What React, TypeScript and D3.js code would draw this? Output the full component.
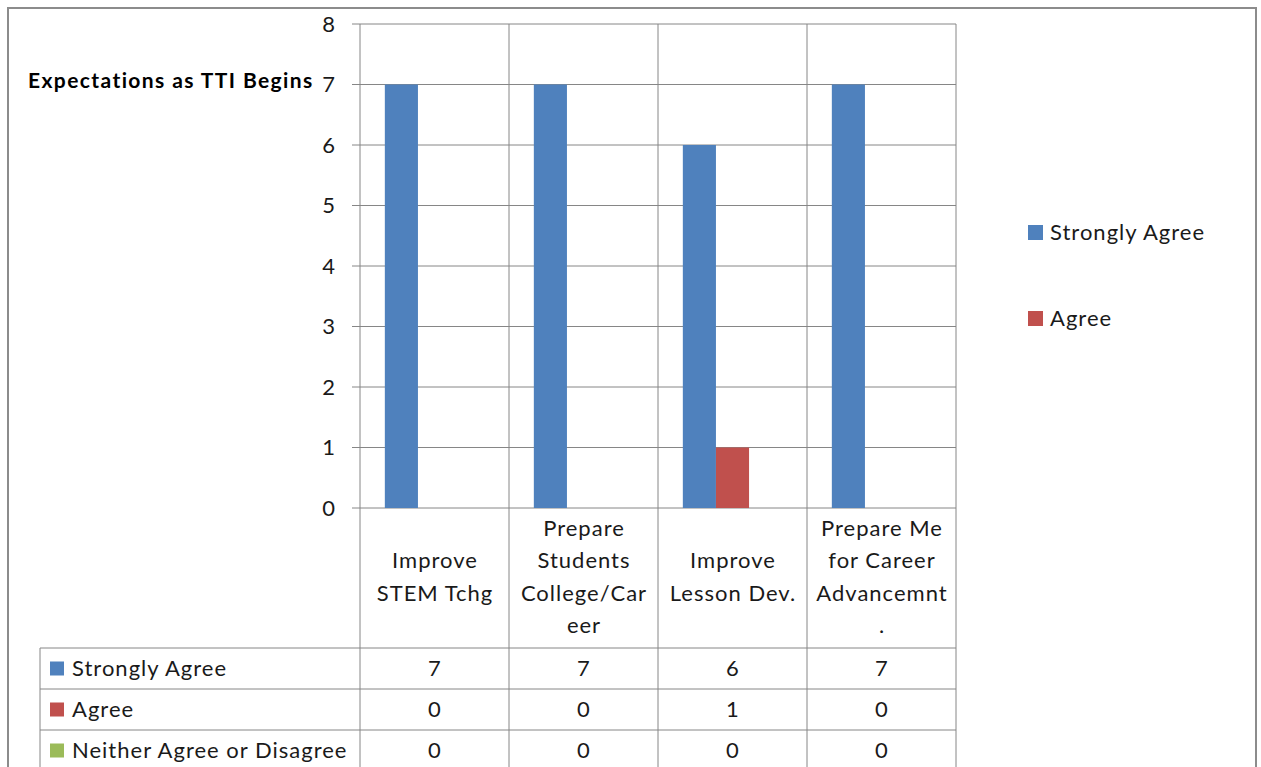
import React from "react";
import * as d3 from "d3";

const categories = ["Improve STEM Tchg", "Prepare Students College/Career", "Improve Lesson Dev.", "Prepare Me for Career Advancemnt."];
const categoryLines = [
  ["Improve", "STEM Tchg"],
  ["Prepare", "Students", "College/Car", "eer"],
  ["Improve", "Lesson Dev."],
  ["Prepare Me", "for Career", "Advancemnt", "."],
];
const seriesNames = ["Strongly Agree", "Agree", "Neither Agree or Disagree"];
const stronglyAgree = [7, 7, 6, 7];
const agree = [0, 0, 1, 0];
const neither = [0, 0, 0, 0];
const seriesValues = [stronglyAgree, agree, neither];
const seriesColors = ["#4F81BD", "#C0504D", "#9BBB59"];
const yTicks = [0, 1, 2, 3, 4, 5, 6, 7, 8];
const legendSeries = ["Strongly Agree", "Agree"];
const title = "Expectations as TTI Begins";

const FONT = "Lato, 'Open Sans', sans-serif";
const TEXT = "#1a1a1a";
const GRID = "#868686";

export default function App() {
  const W = 1261, H = 767;
  const plotL = 360, plotR = 956, plotT = 24, plotB = 508;
  const x = d3.scaleBand<string>().domain(categories).range([plotL, plotR]).paddingInner(0).paddingOuter(0);
  const y = d3.scaleLinear().domain([0, 8]).range([plotB, plotT]);
  const bw = x.bandwidth();
  const groupW = bw / 1.5;
  const xs = d3.scaleBand<string>().domain(seriesNames).range([(bw - groupW) / 2, (bw + groupW) / 2]);

  const tableTop = 648;
  const rowH = 41;
  const tableLeft = 40;
  const fs = 22;
  const ls = 1;

  return (
    <svg width={W} height={H} style={{ position: "absolute", left: 0, top: 0, background: "#fff" }} fontFamily={FONT}>
      <rect x={0} y={0} width={W} height={H} fill="#fff" />
      {/* outer frame */}
      <rect x={8} y={8} width={1248} height={H + 20} fill="none" stroke="#8c8c8c" strokeWidth={2} />

      {/* gridlines */}
      {yTicks.map((t) => (
        <line key={"g" + t} x1={plotL - 8} x2={plotR} y1={y(t)} y2={y(t)} stroke={GRID} strokeWidth={1} />
      ))}
      {/* vertical category lines extending into table */}
      {[...categories.map((c) => x(c)!), plotR].map((vx, i) => (
        <line key={"v" + i} x1={vx} x2={vx} y1={plotT} y2={H + 10} stroke={GRID} strokeWidth={1} />
      ))}
      {/* y tick labels */}
      {yTicks.map((t) => (
        <text key={"t" + t} x={335} y={y(t)} dy="0.35em" textAnchor="end" fontSize={fs} fill={TEXT}>{t}</text>
      ))}
      {/* title */}
      <text x={28} y={81} dy="0.35em" fontSize={21} fontWeight="bold" letterSpacing={1.4} fill="#000">{title}</text>

      {/* bars */}
      {seriesValues.map((vals, si) =>
        vals.map((v, ci) => (
          v > 0 ? (
            <rect key={"b" + si + "-" + ci}
              x={x(categories[ci])! + xs(seriesNames[si])!}
              y={y(v)}
              width={xs.bandwidth()}
              height={y(0) - y(v)}
              fill={seriesColors[si]} />
          ) : null
        ))
      )}

      {/* category labels */}
      {categoryLines.map((lines, ci) => {
        const cx = x(categories[ci])! + bw / 2 + ls / 2;
        const lh = 32.5;
        const c = 577;
        return lines.map((ln, li) => (
          <text key={"c" + ci + "-" + li} x={cx} y={c + (li - (lines.length - 1) / 2) * lh} dy="0.35em" textAnchor="middle" fontSize={fs} letterSpacing={ls} fill={TEXT}>{ln}</text>
        ));
      })}

      {/* data table */}
      {seriesNames.map((s, ri) => (
        <line key={"r" + ri} x1={tableLeft} x2={plotR} y1={tableTop + ri * rowH} y2={tableTop + ri * rowH} stroke={GRID} strokeWidth={1} />
      ))}
      <line x1={tableLeft} x2={plotR} y1={tableTop + 3 * rowH} y2={tableTop + 3 * rowH} stroke={GRID} strokeWidth={1} />
      <line x1={tableLeft} x2={tableLeft} y1={tableTop} y2={H + 10} stroke={GRID} strokeWidth={1} />
      {seriesNames.map((s, ri) => {
        const cy = tableTop + ri * rowH + rowH / 2;
        return (
          <g key={"row" + ri}>
            <rect x={50} y={cy - 7} width={14} height={14} fill={seriesColors[ri]} />
            <text x={72} y={cy} dy="0.35em" fontSize={fs} letterSpacing={ls} fill={TEXT}>{s}</text>
            {seriesValues[ri].map((v, ci) => (
              <text key={ci} x={x(categories[ci])! + bw / 2} y={cy} dy="0.35em" textAnchor="middle" fontSize={fs} fill={TEXT}>{v}</text>
            ))}
          </g>
        );
      })}

      {/* legend */}
      {legendSeries.map((s, i) => {
        const cy = 232 + i * 86;
        return (
          <g key={"l" + i}>
            <rect x={1028} y={cy - 7} width={15} height={15} fill={seriesColors[i]} />
            <text x={1050} y={cy} dy="0.35em" fontSize={fs} letterSpacing={ls} fill={TEXT}>{s}</text>
          </g>
        );
      })}
    </svg>
  );
}
